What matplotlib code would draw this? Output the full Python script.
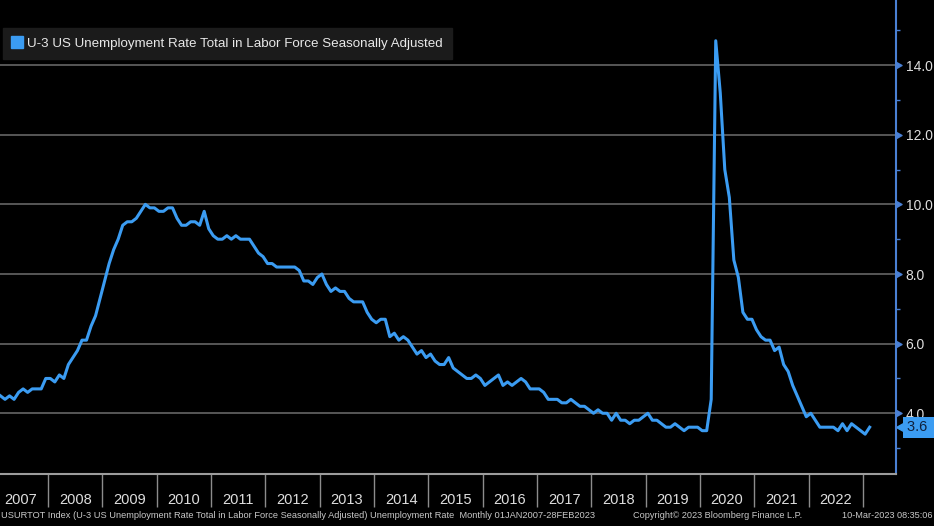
import matplotlib.pyplot as plt
import numpy as np
from matplotlib.lines import Line2D
from matplotlib.path import Path

# U-3 unemployment rate, monthly, Jan 2007 - Feb 2023
rate = [
    4.6, 4.5, 4.4, 4.5, 4.4, 4.6, 4.7, 4.6, 4.7, 4.7, 4.7, 5.0,    # 2007
    5.0, 4.9, 5.1, 5.0, 5.4, 5.6, 5.8, 6.1, 6.1, 6.5, 6.8, 7.3,    # 2008
    7.8, 8.3, 8.7, 9.0, 9.4, 9.5, 9.5, 9.6, 9.8, 10.0, 9.9, 9.9,   # 2009
    9.8, 9.8, 9.9, 9.9, 9.6, 9.4, 9.4, 9.5, 9.5, 9.4, 9.8, 9.3,    # 2010
    9.1, 9.0, 9.0, 9.1, 9.0, 9.1, 9.0, 9.0, 9.0, 8.8, 8.6, 8.5,    # 2011
    8.3, 8.3, 8.2, 8.2, 8.2, 8.2, 8.2, 8.1, 7.8, 7.8, 7.7, 7.9,    # 2012
    8.0, 7.7, 7.5, 7.6, 7.5, 7.5, 7.3, 7.2, 7.2, 7.2, 6.9, 6.7,    # 2013
    6.6, 6.7, 6.7, 6.2, 6.3, 6.1, 6.2, 6.1, 5.9, 5.7, 5.8, 5.6,    # 2014
    5.7, 5.5, 5.4, 5.4, 5.6, 5.3, 5.2, 5.1, 5.0, 5.0, 5.1, 5.0,    # 2015
    4.8, 4.9, 5.0, 5.1, 4.8, 4.9, 4.8, 4.9, 5.0, 4.9, 4.7, 4.7,    # 2016
    4.7, 4.6, 4.4, 4.4, 4.4, 4.3, 4.3, 4.4, 4.3, 4.2, 4.2, 4.1,    # 2017
    4.0, 4.1, 4.0, 4.0, 3.8, 4.0, 3.8, 3.8, 3.7, 3.8, 3.8, 3.9,    # 2018
    4.0, 3.8, 3.8, 3.7, 3.6, 3.6, 3.7, 3.6, 3.5, 3.6, 3.6, 3.6,    # 2019
    3.5, 3.5, 4.4, 14.7, 13.2, 11.0, 10.2, 8.4, 7.9, 6.9, 6.7, 6.7,  # 2020
    6.4, 6.2, 6.1, 6.1, 5.8, 5.9, 5.4, 5.2, 4.8, 4.5, 4.2, 3.9,    # 2021
    4.0, 3.8, 3.6, 3.6, 3.6, 3.6, 3.5, 3.7, 3.5, 3.7, 3.6, 3.5,    # 2022
    3.4, 3.6,                                                      # 2023
]
start_year = 2007
year_labels = [str(y) for y in range(2007, 2023)]
ytick_vals = [4.0, 6.0, 8.0, 10.0, 12.0, 14.0]
series_name = 'U-3 US Unemployment Rate Total in Labor Force Seasonally Adjusted'
footer_left = ('USURTOT Index (U-3 US Unemployment Rate Total in Labor Force Seasonally Adjusted) '
               'Unemployment Rate  Monthly 01JAN2007-28FEB2023')
footer_mid = 'Copyright\u00a9 2023 Bloomberg Finance L.P.'
footer_right = '10-Mar-2023 08:35:06'

BLUE = '#3b9cf2'
SPINE = '#4a80d4'
TXT = '#dedede'

plt.rcParams['font.family'] = ['Liberation Sans', 'DejaVu Sans']

x = start_year + (np.arange(len(rate)) + 0.5) / 12.0

fig = plt.figure(figsize=(9.34, 5.26), dpi=100, facecolor='black')
ax = fig.add_axes([0, 52.5 / 526, 896 / 934, 473.5 / 526])
ax.set_facecolor('black')

ax.plot(x, rate, color=BLUE, lw=2.2, solid_joinstyle='round')

ax.set_xlim(2007.116, 2023.61)
ax.set_ylim(2.27, 15.87)

# y axis on the right
ax.yaxis.tick_right()
ax.set_yticks(ytick_vals)
ax.set_yticklabels([f'{v:.1f}' for v in ytick_vals])
ax.set_yticks(np.arange(3, 16, 2), minor=True)
ax.tick_params(axis='y', which='major', length=0, pad=7, labelcolor=TXT, labelsize=10)
ax.tick_params(axis='y', which='minor', length=3, width=1, color=SPINE, direction='out')
ax.grid(axis='y', which='major', color='#5e5e5e', lw=1.3)

# triangle markers on the right spine
tri_r = Path([(0, -0.5), (0.9, 0), (0, 0.5), (0, -0.5)],
             [Path.MOVETO, Path.LINETO, Path.LINETO, Path.CLOSEPOLY])
ax.plot(np.ones(len(ytick_vals)), ytick_vals, ls='none', marker=tri_r, markersize=8,
        color=SPINE, transform=ax.get_yaxis_transform(), clip_on=False)

# x axis: year separators and labels
ax.set_xticks(np.arange(2008, 2024))
ax.set_xticklabels([])
ax.set_xticks(np.arange(2007, 2023) + 0.5, minor=True)
ax.set_xticklabels(year_labels, minor=True)
ax.tick_params(axis='x', which='major', length=24, width=1, color='#8c8c8c', direction='out')
ax.tick_params(axis='x', which='minor', length=0, pad=14, labelcolor=TXT, labelsize=10.5)

for s in ['top', 'left']:
    ax.spines[s].set_visible(False)
ax.spines['bottom'].set_color('#9c9c9c')
ax.spines['bottom'].set_linewidth(1.5)
ax.spines['right'].set_color(SPINE)
ax.spines['right'].set_linewidth(1.5)

# last value tag: arrow head on the spine, box to its right
tri_l = Path([(0, 0), (0.9, -0.5), (0.9, 0.5), (0, 0)],
             [Path.MOVETO, Path.LINETO, Path.LINETO, Path.CLOSEPOLY])
ax.plot([1.0], [rate[-1]], ls='none', marker=tri_l, markersize=15, color=BLUE,
        transform=ax.get_yaxis_transform(), clip_on=False)
ax.annotate(f'{rate[-1]:.1f}  ', xy=(1.0, rate[-1]), xycoords=ax.get_yaxis_transform(),
            xytext=(8, 0), textcoords='offset points', ha='left', va='center',
            color='#10213d', fontsize=10.5,
            bbox=dict(boxstyle='square,pad=0.25', fc=BLUE, ec='none'))

# legend
handle = Line2D([], [], marker='s', ls='none', color=BLUE, markersize=9)
leg = ax.legend([handle], [series_name], loc='upper left',
                bbox_to_anchor=(0.003, 1 - 28 / 473.5), borderaxespad=0,
                frameon=True, facecolor='#1b1b1b', edgecolor='#1b1b1b', framealpha=1,
                fancybox=False, handlelength=0.7, handletextpad=0.4, borderpad=0.7,
                fontsize=9.6, labelcolor='#e8e8e8')

# footer
fig.text(0.001, 10 / 526, footer_left, color='#c8c8c8', fontsize=6.7, va='center', ha='left')
fig.text(633 / 934, 10 / 526, footer_mid, color='#c8c8c8', fontsize=6.6, va='center', ha='left')
fig.text(932 / 934, 10 / 526, footer_right, color='#c8c8c8', fontsize=6.6, va='center', ha='right')

fig.savefig('out.png', dpi=100, facecolor='black')
